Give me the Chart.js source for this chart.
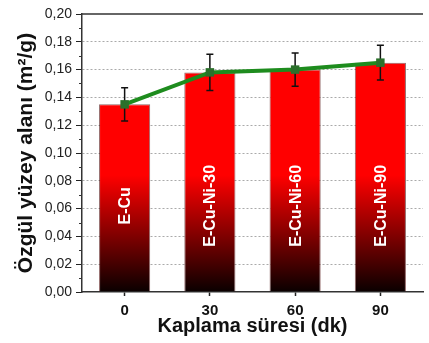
<!DOCTYPE html>
<html>
<head>
<meta charset="utf-8">
<script src="https://cdn.jsdelivr.net/npm/chart.js@4/dist/chart.umd.min.js"></script>
<style>
    html, body { margin: 0; padding: 0; background: #fff; }
    #chart { display: block; }
</style>
</head>
<body>
<canvas id="chart" width="429" height="343"></canvas>
<script>
// data
const categories = ['0', '30', '60', '90'];
const barNames = ['E-Cu', 'E-Cu-Ni-30', 'E-Cu-Ni-60', 'E-Cu-Ni-90'];
const surfaceArea = [0.135, 0.158, 0.160, 0.165];
const errors = [0.012, 0.013, 0.012, 0.0125];
const yTicks = [0, 0.02, 0.04, 0.06, 0.08, 0.10, 0.12, 0.14, 0.16, 0.18, 0.20];

const fmt = v => v.toFixed(2).replace('.', ',');

// top frame line, minor ticks on the y axis
const framePlugin = {
    id: 'frame',
    afterDraw(chart) {
        const { ctx, chartArea } = chart;
        const y = chart.scales.y;
        ctx.save();
        ctx.strokeStyle = '#333';
        ctx.lineWidth = 1.5;
        ctx.beginPath();
        ctx.moveTo(chartArea.left, chartArea.top);
        ctx.lineTo(chartArea.right, chartArea.top);
        ctx.stroke();
        ctx.lineWidth = 1;
        for (let i = 0; i < yTicks.length - 1; i++) {
            const py = Math.round(y.getPixelForValue((yTicks[i] + yTicks[i + 1]) / 2)) + 0.5;
            ctx.beginPath();
            ctx.moveTo(chartArea.left - 3, py);
            ctx.lineTo(chartArea.left, py);
            ctx.stroke();
        }
        ctx.restore();
    }
};

// error bars and sample names, drawn right after the bars
const barExtras = {
    id: 'barExtras',
    afterDatasetDraw(chart, args) {
        if (args.index !== 0) return;
        const { ctx } = chart;
        const y = chart.scales.y;
        const meta = chart.getDatasetMeta(0);
        ctx.save();
        // names
        ctx.fillStyle = '#fff';
        ctx.font = 'bold 16px "Liberation Sans", Arial, sans-serif';
        ctx.textAlign = 'center';
        ctx.textBaseline = 'middle';
        meta.data.forEach((bar, i) => {
            ctx.save();
            ctx.translate(bar.x + 1, y.getPixelForValue(0.062));
            ctx.rotate(-Math.PI / 2);
            ctx.fillText(barNames[i], 0, 0);
            ctx.restore();
        });
        // error bars
        ctx.strokeStyle = '#111';
        ctx.lineWidth = 1.5;
        meta.data.forEach((bar, i) => {
            const top = y.getPixelForValue(surfaceArea[i] + errors[i]);
            const bot = y.getPixelForValue(surfaceArea[i] - errors[i]);
            ctx.beginPath();
            ctx.moveTo(bar.x, top);
            ctx.lineTo(bar.x, bot);
            ctx.moveTo(bar.x - 3.5, top);
            ctx.lineTo(bar.x + 3.5, top);
            ctx.moveTo(bar.x - 3.5, bot);
            ctx.lineTo(bar.x + 3.5, bot);
            ctx.stroke();
        });
        ctx.restore();
    }
};

function barGradient(context) {
    const { chart } = context;
    const area = chart.chartArea;
    if (!area) return '#ff0000';
    const g = chart.ctx.createLinearGradient(0, area.bottom, 0, area.top);
    g.addColorStop(0, '#0a0000');
    g.addColorStop(0.42, '#ff0000');
    g.addColorStop(1, '#ff0000');
    return g;
}

const ctx = document.getElementById('chart').getContext('2d');

new Chart(ctx, {
    data: {
        labels: categories,
        datasets: [{
            type: 'bar',
            data: surfaceArea,
            backgroundColor: barGradient,
            borderColor: 'rgba(70, 0, 0, 0.6)',
            borderWidth: 1,
            barPercentage: 0.6,
            categoryPercentage: 1,
            order: 2
        }, {
            type: 'line',
            data: surfaceArea,
            borderColor: '#1e8c1e',
            borderWidth: 4,
            pointStyle: 'rect',
            pointRadius: 6,
            pointBackgroundColor: '#2b702b',
            pointBorderColor: '#2b702b',
            pointBorderWidth: 0,
            tension: 0,
            order: 1
        }]
    },
    options: {
        responsive: false,
        animation: false,
        events: [],
        layout: { padding: { top: 14, right: 0, left: 0, bottom: 0 } },
        plugins: {
            legend: { display: false },
            tooltip: { enabled: false }
        },
        scales: {
            x: {
                offset: true,
                afterFit: s => { s.height = 51; },
                grid: {
                    offset: false,
                    drawOnChartArea: false,
                    tickLength: 4,
                    tickColor: '#222',
                    tickWidth: 1.5
                },
                border: { color: '#333', width: 1.5 },
                ticks: {
                    padding: 6,
                    color: '#111',
                    font: { family: '"Liberation Sans", Arial, sans-serif', size: 15, weight: 'bold' }
                },
                title: {
                    display: true,
                    text: 'Kaplama süresi (dk)',
                    color: '#111',
                    padding: { top: 0, bottom: 5 },
                    font: { family: '"Liberation Sans", Arial, sans-serif', size: 20, weight: 'bold' }
                }
            },
            y: {
                min: 0,
                max: 0.2,
                afterFit: s => { s.width = 82; },
                afterBuildTicks: s => { s.ticks = yTicks.map(v => ({ value: v })); },
                grid: {
                    color: ctx => (ctx.tick && (ctx.tick.value === 0 || ctx.tick.value === 0.2)) ? 'rgba(0,0,0,0)' : '#aaa',
                    lineWidth: 1,
                    tickLength: 6,
                    tickColor: '#222',
                    tickWidth: 1,
                    tickBorderDash: []
                },
                border: { color: '#333', width: 1.5, dash: [2, 2] },
                ticks: {
                    padding: 4,
                    color: '#222',
                    font: { family: '"Liberation Sans", Arial, sans-serif', size: 14 },
                    callback: v => fmt(v)
                },
                title: {
                    display: true,
                    text: 'Özgül yüzey alanı (m²/g)',
                    color: '#111',
                    padding: { top: 14, bottom: 0 },
                    font: { family: '"Liberation Sans", Arial, sans-serif', size: 21, weight: 'bold' }
                }
            }
        }
    },
    plugins: [framePlugin, barExtras]
});
</script>
</body>
</html>
